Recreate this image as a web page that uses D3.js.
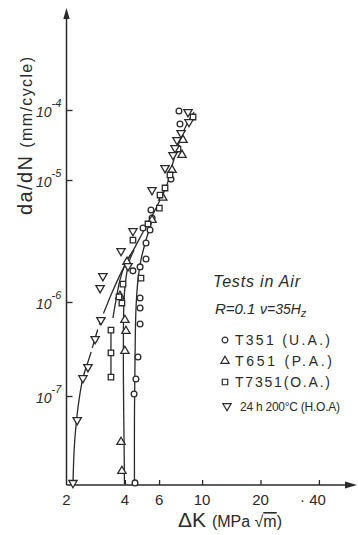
<!DOCTYPE html>
<html>
<head>
<meta charset="utf-8">
<script src="https://cdn.jsdelivr.net/npm/d3@7"></script>
<style>
  body { margin: 0; background: #fff; }
  svg { display: block; }
  text { font-family: "Liberation Sans", Arial, sans-serif; fill: #2a2a2a; }
</style>
</head>
<body>
<svg id="chart" width="358" height="535"></svg>
<script>
// tick values
const xTicks = [2, 4, 6, 10, 20, 40];
const xTickLabels = ['2', '4', '6', '10', '20', '· 40'];
const yTicks = [1e-7, 1e-6, 1e-5, 1e-4];
const yTickExps = ['-7', '-6', '-5', '-4'];

// measured points [ΔK (MPa√m), da/dN (mm/cycle)]
const t351 = [[7.60, 9.68e-5], [7.69, 6.31e-5], [6.91, 1.03e-5], [5.45, 5.67e-6], [5.52, 4.88e-6],
  [4.96, 4.04e-6], [5.39, 3.89e-6], [5.14, 3.05e-6], [5.14, 2.25e-6], [4.79, 1.94e-6], [4.40, 1.80e-6],
  [4.79, 1.08e-6], [4.79, 8.63e-7], [4.79, 5.83e-7], [4.67, 2.60e-7], [4.56, 1.52e-7], [4.46, 1.05e-7],
  [4.51, 1.19e-8]];
const t651 = [[7.97, 3.73e-5], [7.88, 2.28e-5], [7.00, 1.39e-5], [6.27, 7.16e-6], [5.52, 4.70e-6],
  [4.10, 2.13e-6], [3.77, 1.12e-6], [4.00, 6.43e-7], [4.05, 4.91e-7], [4.00, 3.01e-7], [3.82, 3.24e-8],
  [3.86, 1.59e-8]];
const t7351 = [[8.98, 7.94e-5], [7.51, 2.77e-5], [6.83, 1.18e-5], [6.44, 8.60e-6], [6.07, 7.53e-6],
  [6.02, 5.89e-6], [5.26, 4.36e-6], [4.40, 3.22e-6], [4.84, 1.57e-6], [3.91, 1.40e-6], [3.73, 1.10e-6],
  [3.86, 9.76e-7], [3.39, 5.03e-7], [3.39, 2.87e-7], [3.39, 1.59e-7]];
const hoa = [[8.46, 9.36e-5], [8.56, 6.74e-5], [7.79, 4.69e-5], [7.42, 3.73e-5], [7.25, 2.87e-5],
  [7.08, 2.28e-5], [6.44, 1.48e-5], [5.52, 8.28e-6], [4.40, 3.82e-6], [3.82, 2.62e-6], [4.15, 1.97e-6],
  [3.08, 1.63e-6], [2.98, 1.30e-6], [3.01, 6.43e-7], [2.81, 4.04e-7], [2.58, 2.03e-7], [2.43, 1.55e-7],
  [2.27, 5.55e-8], [2.16, 1.19e-8]];

// hand-drawn trend curves
const hoaUpper = [[9.09, 9.36e-5], [8.46, 6.74e-5], [7.88, 4.40e-5], [7.34, 2.51e-5], [6.91, 1.39e-5],
  [6.59, 9.10e-6], [6.07, 6.86e-6], [5.52, 5.07e-6], [4.96, 3.75e-6], [4.51, 2.82e-6], [4.15, 2.25e-6],
  [3.77, 1.66e-6], [3.43, 1.19e-6], [3.20, 8.85e-7]];
const hoaDashed = [[3.20, 8.85e-7], [3.01, 6.43e-7], [2.81, 4.14e-7], [2.68, 2.94e-7]];
const hoaLower = [[2.68, 2.94e-7], [2.58, 2.30e-7], [2.43, 1.55e-7], [2.32, 9.06e-8], [2.24, 4.91e-8],
  [2.19, 2.67e-8], [2.16, 1.16e-8]];
const t7351Upper = [[3.47, 6.76e-7], [3.60, 1.04e-6], [3.77, 1.51e-6], [4.00, 2.01e-6], [4.30, 2.47e-6]];
const t7351Lower = [[3.39, 4.80e-7], [3.39, 1.59e-7]];
const t651Curve = [[3.98, 1.16e-8], [3.96, 3.40e-8], [3.93, 1.48e-7], [3.93, 5.03e-7], [3.96, 1.04e-6],
  [4.05, 1.57e-6], [4.20, 2.13e-6], [4.46, 2.67e-6]];
const t351Curve = [[4.48, 1.16e-8], [4.48, 5.55e-8], [4.51, 2.42e-7], [4.56, 8.22e-7], [4.67, 1.51e-6],
  [4.84, 2.21e-6], [5.14, 3.22e-6], [5.58, 4.88e-6]];

const legendLabels = ['T351 (U.A.)', 'T651 (P.A.)', 'T7351(O.A.)', '24 h 200°C (H.O.A)'];

const ink = '#2a2a2a';
const svg = d3.select('#chart');

const x = d3.scaleLog().domain([2, 40]).range([66.5, 318.9]);
// the decades on the original drawing are not evenly spaced, so the log scale is piecewise
const y = d3.scaleLog()
  .domain([1e-8, 1e-7, 1e-6, 1e-5, 1e-4, 1e-2])
  .range([490, 396, 302, 180, 110, -30]);

const x0 = x(2);
const yBase = y(1.13e-8);
const yTop = 8, xEnd = 357;

// axes lines + arrows
svg.append('line').attr('x1', x0).attr('x2', x0).attr('y1', yBase).attr('y2', yTop + 6)
  .attr('stroke', ink).attr('stroke-width', 1.5);
svg.append('line').attr('x1', x0).attr('x2', xEnd - 6).attr('y1', yBase).attr('y2', yBase)
  .attr('stroke', ink).attr('stroke-width', 1.5);
svg.append('path').attr('d', `M${x0},${yTop} L${x0 - 3.2},${yTop + 11} L${x0 + 3.2},${yTop + 11} Z`).attr('fill', ink);
svg.append('path').attr('d', `M${xEnd},${yBase} L${xEnd - 12},${yBase - 3.5} L${xEnd - 12},${yBase + 3.5} Z`).attr('fill', ink);

// x ticks
svg.append('g').attr('transform', `translate(0,${yBase})`)
  .call(d3.axisTop(x).tickValues(xTicks.slice(1)).tickSize(5).tickFormat(''))
  .call(g => g.select('.domain').remove())
  .call(g => g.selectAll('line').attr('stroke', ink).attr('stroke-width', 1.3));

svg.selectAll('.xlab').data(xTicks).enter().append('text')
  .attr('x', (d, i) => x(d) - (i === xTicks.length - 1 ? 6 : 0))
  .attr('y', yBase + 20)
  .attr('text-anchor', 'middle')
  .attr('font-size', 15)
  .text((d, i) => xTickLabels[i]);

// y ticks
svg.append('g').attr('transform', `translate(${x0},0)`)
  .call(d3.axisRight(y).tickValues(yTicks).tickSize(6).tickFormat(''))
  .call(g => g.select('.domain').remove())
  .call(g => g.selectAll('line').attr('stroke', ink).attr('stroke-width', 1.3));

// 10 with its exponent
const ylab = svg.selectAll('.ylab').data(yTicks).enter().append('text')
  .attr('x', 36).attr('y', d => y(d) + 7)
  .attr('font-size', 14).attr('font-style', 'italic');
ylab.append('tspan').text('10');
ylab.append('tspan').attr('dx', 0).attr('dy', -10).attr('font-size', 11)
  .text((d, i) => yTickExps[i]);

// curves
const line = d3.line().x(d => x(d[0])).y(d => y(d[1])).curve(d3.curveCatmullRom.alpha(0.5));
const curves = [
  { pts: hoaUpper, dash: null },
  { pts: hoaDashed, dash: '7,5' },
  { pts: hoaLower, dash: null },
  { pts: t7351Upper, dash: null },
  { pts: t7351Lower, dash: null },
  { pts: t651Curve, dash: null },
  { pts: t351Curve, dash: null }
];
svg.append('g').selectAll('path').data(curves).enter().append('path')
  .attr('d', d => line(d.pts))
  .attr('fill', 'none')
  .attr('stroke', ink)
  .attr('stroke-width', 1.3)
  .attr('stroke-dasharray', d => d.dash);

// markers
const symCircle = d3.symbol().type(d3.symbolCircle).size(26);
const symTri = d3.symbol().type(d3.symbolTriangle).size(30);
const symSquare = d3.symbol().type(d3.symbolSquare).size(30);
const series = [
  { pts: t351, sym: symCircle, rot: 0 },
  { pts: t651, sym: symTri, rot: 0 },
  { pts: t7351, sym: symSquare, rot: 0 },
  { pts: hoa, sym: symTri, rot: 180 }
];
series.forEach(s => {
  svg.append('g').selectAll('path').data(s.pts).enter().append('path')
    .attr('d', s.sym())
    .attr('transform', d => `translate(${x(d[0])},${y(d[1])}) rotate(${s.rot})`)
    .attr('fill', '#fff')
    .attr('stroke', ink)
    .attr('stroke-width', 1.3);
});

// axis titles
const yt = svg.append('text')
  .attr('transform', 'translate(32,136) rotate(-90)')
  .attr('text-anchor', 'middle')
  .attr('textLength', 158).attr('lengthAdjust', 'spacing');
yt.append('tspan').attr('font-size', 20).text('da/dN ');
yt.append('tspan').attr('font-size', 16).text('(mm/cycle)');

const xt = svg.append('text').attr('x', 178).attr('y', 527);
xt.append('tspan').attr('font-size', 21).text('ΔK ');
xt.append('tspan').attr('font-size', 16).text('(MPa √');
xt.append('tspan').attr('font-size', 16).style('text-decoration', 'overline').text('m');
xt.append('tspan').attr('font-size', 16).text(')');

// legend / notes
svg.append('text').attr('x', 213).attr('y', 287)
  .attr('font-size', 16).attr('font-style', 'italic')
  .attr('textLength', 87).attr('lengthAdjust', 'spacing')
  .text('Tests in Air');
const rl = svg.append('text').attr('x', 215).attr('y', 314).attr('font-size', 15).attr('font-style', 'italic');
rl.append('tspan').text('R=0.1');
rl.append('tspan').attr('x', 260).attr('font-size', 14).text('ν=35H');
rl.append('tspan').attr('font-size', 11).attr('dy', 3).text('z');

const legSyms = [symCircle, symTri, symSquare, symTri];
const legRot = [0, 0, 0, 180];
const legY = [340, 361, 382, 406];
const legW = [95, 97, 95, 100];
legendLabels.forEach((lab, i) => {
  svg.append('path')
    .attr('d', legSyms[i]())
    .attr('transform', `translate(${i === 3 ? 227 : 225},${legY[i]}) rotate(${legRot[i]})`)
    .attr('fill', '#fff').attr('stroke', ink).attr('stroke-width', 1.2);
  svg.append('text')
    .attr('x', i === 3 ? 240 : 235).attr('y', legY[i] + 5)
    .attr('font-size', i === 3 ? 12 : 14)
    .attr('textLength', legW[i]).attr('lengthAdjust', 'spacing')
    .text(lab);
});
</script>
</body>
</html>
